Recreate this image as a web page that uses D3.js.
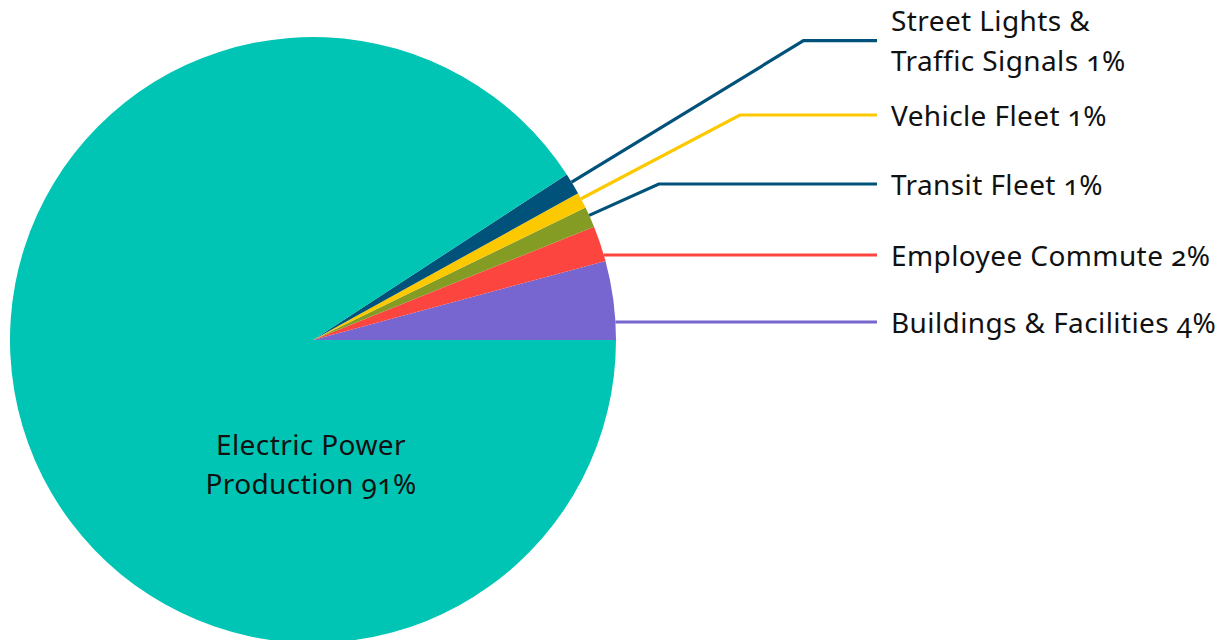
<!DOCTYPE html>
<html><head><meta charset="utf-8">
<script src="https://cdn.jsdelivr.net/npm/d3@7/dist/d3.min.js"></script>
<style>
html,body{margin:0;padding:0;background:#fff;overflow:hidden}
svg{display:block}
text{font-family:"Noto Sans",sans-serif;font-variant-numeric:oldstyle-nums;fill:#111;letter-spacing:0.4px}
</style></head>
<body>
<svg id="chart" width="1228" height="640"></svg>
<script>
// ---- data ----
const categories = ["Buildings & Facilities", "Employee Commute", "Transit Fleet", "Vehicle Fleet", "Street Lights & Traffic Signals", "Electric Power Production"];
const values = [4.2, 1.9, 1.1, 0.85, 1.15, 90.8];
const percentLabels = ["4%", "2%", "1%", "1%", "1%", "91%"];
const labelLines = [["Buildings & Facilities 4%"], ["Employee Commute 2%"], ["Transit Fleet 1%"], ["Vehicle Fleet 1%"], ["Street Lights &", "Traffic Signals 1%"], ["Electric Power", "Production 91%"]];
const sliceColors = ["#7766cf", "#fc453f", "#849b24", "#fcc900", "#00527b", "#00c5b4"];
const leaderColors = ["#7766cf", "#fc453f", "#00527b", "#fcc900", "#00527b", null];

// ---- layout ----
const cx = 313, cy = 340, R = 303;
const labelY = [322, 255, 184, 115, 40.7, null];
const labelX = 891, lineEndX = 877;

const svg = d3.select("#chart");
const data = categories.map((c, i) => ({ name: c, value: values[i], i }));
const pie = d3.pie().sort(null).value(d => d.value)
  .startAngle(Math.PI / 2).endAngle(Math.PI / 2 - 2 * Math.PI);
const arcs = pie(data);
const arc = d3.arc().innerRadius(0).outerRadius(R);

const g = svg.append("g").attr("transform", `translate(${cx},${cy})`);
g.selectAll("path.slice").data(arcs).join("path")
  .attr("class", "slice")
  .attr("d", arc)
  .attr("fill", d => sliceColors[d.data.i]);

// leader lines
const toXY = (ang, r) => [r * Math.sin(ang), -r * Math.cos(ang)];
arcs.forEach(a => {
  const i = a.data.i;
  if (labelY[i] == null) return;
  const ly = labelY[i] - cy;
  const lo = Math.min(a.startAngle, a.endAngle), hi = Math.max(a.startAngle, a.endAngle);
  const angAtY = Math.acos(-ly / R);
  let pts;
  if (angAtY >= lo && angAtY <= hi) {
    const ex = Math.sqrt(R * R - ly * ly);
    pts = [[ex, ly], [lineEndX - cx, ly]];
  } else {
    const mid = (a.startAngle + a.endAngle) / 2 - 0.006;
    const p0 = toXY(mid, R);
    const t = ly / p0[1];
    pts = [p0, [p0[0] * t, ly], [lineEndX - cx, ly]];
  }
  g.append("path")
    .attr("d", d3.line()(pts))
    .attr("fill", "none")
    .attr("stroke", leaderColors[i])
    .attr("stroke-width", 3.2);
});

// outside labels
const fs = 28, lh = 40;
arcs.forEach(a => {
  const i = a.data.i;
  if (labelY[i] == null) return;
  const lines = labelLines[i];
  const t = svg.append("text")
    .attr("x", labelX)
    .attr("font-size", fs);
  const y0 = labelY[i] - (lines.length - 1) * lh / 2 + 10.5;
  lines.forEach((ln, k) => {
    t.append("tspan").attr("x", labelX).attr("y", y0 + k * lh).text(ln);
  });
});

// inside label for big slice
const big = labelLines[5];
const it = svg.append("text").attr("text-anchor", "middle").attr("font-size", fs);
big.forEach((ln, k) => {
  it.append("tspan").attr("x", 311).attr("y", 455 + k * 39).text(ln);
});
</script>
</body></html>
